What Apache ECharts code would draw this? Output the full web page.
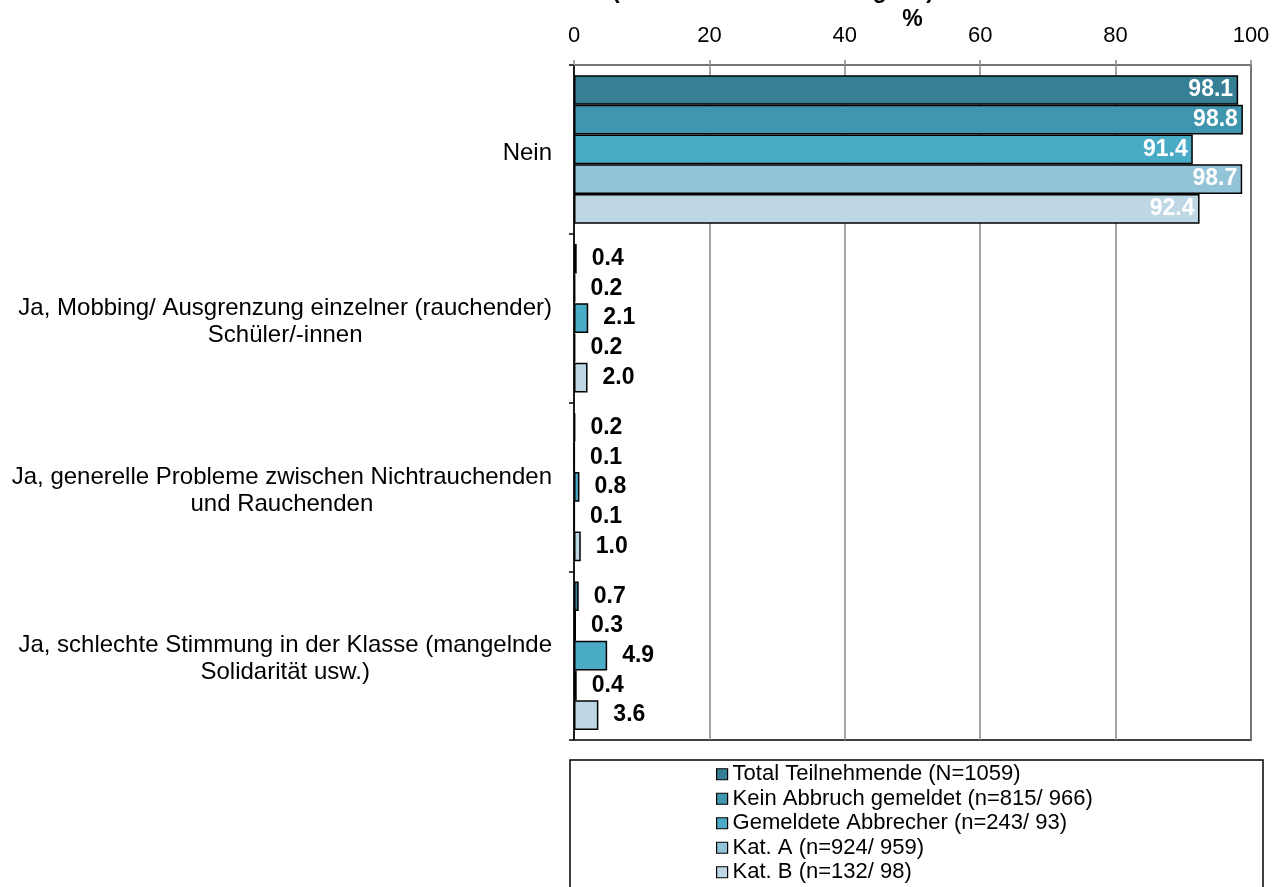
<!DOCTYPE html>
<html>
<head>
<meta charset="utf-8">
<script src="https://cdn.jsdelivr.net/npm/echarts@6/dist/echarts.min.js"></script>
<style>
  html, body { margin: 0; padding: 0; background: #fff; }
  #chart { width: 1285px; height: 887px; }
</style>
</head>
<body>
<div id="chart"></div>
<script>
// Answer categories (top to bottom)
const categories = [
  'Nein',
  'Ja, Mobbing/ Ausgrenzung einzelner (rauchender)\nSchüler/-innen',
  'Ja, generelle Probleme zwischen Nichtrauchenden\nund Rauchenden',
  'Ja, schlechte Stimmung in der Klasse (mangelnde\nSolidarität usw.)'
];

// Group names shown in the legend
const seriesNames = [
  'Total Teilnehmende (N=1059)',
  'Kein Abbruch gemeldet (n=815/ 966)',
  'Gemeldete Abbrecher (n=243/ 93)',
  'Kat. A (n=924/ 959)',
  'Kat. B (n=132/ 98)'
];

// Percentages per group, one value per category
const totalValues      = [98.1, 0.4, 0.2, 0.7];
const keinAbbruch      = [98.8, 0.2, 0.1, 0.3];
const abbrecher        = [91.4, 2.1, 0.8, 4.9];
const katA             = [98.7, 0.2, 0.1, 0.4];
const katB             = [92.4, 2.0, 1.0, 3.6];

// X axis tick values
const xTicks = [0, 20, 40, 60, 80, 100];

const seriesValues = [totalValues, keinAbbruch, abbrecher, katA, katB];
const colors = ['#367f94', '#4196af', '#4aabc6', '#93c3d6', '#bdd8e4'];
const FONT = "'Liberation Sans', Arial, Helvetica, sans-serif";

const chart = echarts.init(document.getElementById('chart'), null, { renderer: 'canvas' });

function buildSeries(values, idx) {
  return {
    name: seriesNames[idx],
    type: 'bar',
    barGap: '0%',
    barCategoryGap: '12%',
    itemStyle: { color: colors[idx], borderColor: '#000', borderWidth: 1.5 },
    data: values.map(function (v) {
      const big = v > 50;
      return {
        value: v,
        label: big
          ? { position: 'insideRight', distance: 5, color: '#fff' }
          : { position: 'right', distance: 15, color: '#000' }
      };
    }),
    label: {
      show: true,
      fontFamily: FONT,
      fontSize: 23,
      fontWeight: 'bold',
      formatter: function (p) { return p.value.toFixed(1); }
    }
  };
}

const option = {
  backgroundColor: '#fff',
  animation: false,
  textStyle: { fontFamily: FONT },
  grid: {
    left: 574, right: 34, top: 65, bottom: 147,
    show: true, borderColor: '#000', borderWidth: 1.5,
    containLabel: false,
    outerBoundsMode: 'none'
  },
  legend: {
    orient: 'vertical',
    left: 716,
    top: 762,
    padding: 0,
    itemGap: 0,
    itemWidth: 11,
    itemHeight: 11,
    icon: 'rect',
    selectedMode: false,
    textStyle: { fontFamily: FONT, fontSize: 22, color: '#000', lineHeight: 24.5 },
    data: seriesNames.map(function (n) { return { name: n, itemStyle: { borderColor: '#000', borderWidth: 1.2 } }; })
  },
  xAxis: {
    type: 'value',
    position: 'top',
    min: xTicks[0],
    max: xTicks[xTicks.length - 1],
    interval: xTicks[1] - xTicks[0],
    name: '%',
    nameLocation: 'middle',
    nameGap: 34,
    nameMoveOverlap: false,
    nameTextStyle: { fontFamily: FONT, fontSize: 23, fontWeight: 'bold', color: '#000' },
    axisLine: { show: true, lineStyle: { color: '#888', width: 1.5 } },
    axisTick: { show: true, length: 5, lineStyle: { color: '#888', width: 1.5 } },
    axisLabel: { fontFamily: FONT, fontSize: 22, color: '#000', margin: 18 },
    splitLine: { show: true, lineStyle: { color: '#888', width: 1.5 } }
  },
  yAxis: {
    type: 'category',
    inverse: true,
    data: categories,
    axisLine: { show: true, lineStyle: { color: '#000', width: 1.5 } },
    axisTick: { show: true, length: 5, lineStyle: { color: '#000', width: 1.5 } },
    axisLabel: {
      fontFamily: FONT,
      fontSize: 24,
      color: '#000',
      margin: 22,
      lineHeight: 27,
      padding: [7, 0, 0, 0],
      formatter: function (v) {
        return v.split('\n').map(function (l) { return '{c|' + l + '}'; }).join('\n');
      },
      rich: {
        c: { align: 'center', fontFamily: FONT, fontSize: 24, color: '#000', lineHeight: 27 }
      }
    },
    splitLine: { show: false }
  },
  graphic: [
    {
      type: 'text',
      left: 612,
      top: -20,
      style: {
        text: '(Mehrfachantworten möglich)',
        font: "bold 23px 'Liberation Sans', Arial, sans-serif",
        fill: '#000'
      },
      z: 10
    },
    {
      type: 'rect',
      shape: { x: 570, y: 760, width: 693, height: 200 },
      style: { fill: 'none', stroke: '#000', lineWidth: 1.5 },
      z: -1
    }
  ],
  series: seriesValues.map(buildSeries)
};

chart.setOption(option);
</script>
</body>
</html>
